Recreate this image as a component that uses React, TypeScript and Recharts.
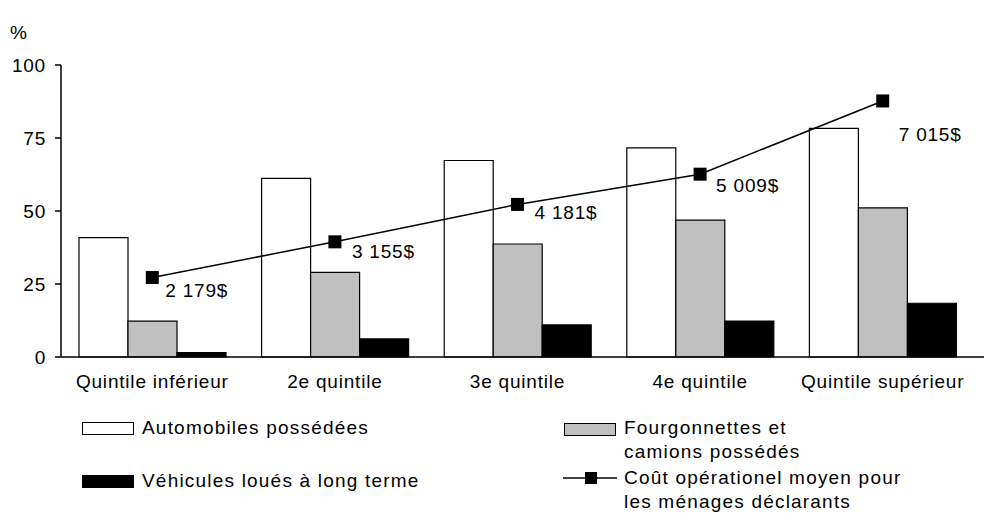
import {
  Bar,
  ComposedChart,
  LabelList,
  Line,
  XAxis,
  YAxis
} from 'recharts';

// Quintiles de revenu
const categories = ['Quintile inférieur', '2e quintile', '3e quintile', '4e quintile', 'Quintile supérieur'];

// Pourcentage des ménages
const automobiles = [40.9, 61.2, 67.3, 71.6, 78.3];
const fourgonnettes = [12.3, 29.0, 38.7, 46.9, 51.1];
const vehiculesLoues = [1.5, 6.2, 11.0, 12.3, 18.4];

// Coût opérationnel moyen ($)
const coutMoyen = [2179, 3155, 4181, 5009, 7015];

const yTicks = [0, 25, 50, 75, 100];

const data = categories.map((name, i) => ({
  name,
  auto: automobiles[i],
  fourg: fourgonnettes[i],
  loues: vehiculesLoues[i],
  cout: coutMoyen[i]
}));

const FONT = '"Liberation Sans", Arial, sans-serif';
const TEXT = { fontFamily: FONT, fontSize: 19, fill: '#000', letterSpacing: 0.8 };

// label placement next to each point (as in the original)
const LABEL_OFFSETS = [[13, 13], [17, 9], [17, 8], [16, 11], [16, 33]];

const formatCost = (n: number) =>
  `${Math.floor(n / 1000)} ${String(n % 1000).padStart(3, '0')}$`;

const SquareDot = (props: any) => {
  const { cx, cy } = props;
  if (cx == null || cy == null) return null;
  return <rect x={cx - 6.5} y={cy - 6.5} width={13} height={13} fill="#000" />;
};

const CostLabel = (props: any) => {
  const { x, y, value, index } = props;
  const [dx, dy] = LABEL_OFFSETS[index] || [14, 10];
  return (
    <text x={x + dx} y={y + dy} dy="0.355em" textAnchor="start" {...TEXT}>
      {formatCost(value)}
    </text>
  );
};

const legendText: React.CSSProperties = {
  position: 'absolute',
  fontFamily: FONT,
  fontSize: 19,
  letterSpacing: 1.2,
  lineHeight: '24px',
  color: '#000',
  whiteSpace: 'nowrap'
};

const Swatch = ({ left, top, fill }: { left: number; top: number; fill: string }) => (
  <div
    style={{
      position: 'absolute',
      left,
      top,
      width: 52,
      height: 13,
      boxSizing: 'border-box',
      background: fill,
      border: '1.5px solid #000'
    }}
  />
);

const App = () => {
  return (
    <div style={{ position: 'absolute', left: 0, top: 0, width: 986, height: 521, background: '#fff' }}>
      <div style={{ ...legendText, left: 10, top: 21 }}>%</div>
      <ComposedChart
        width={986}
        height={521}
        data={data}
        barGap={0}
        margin={{ top: 65, right: 2, left: 0, bottom: 134 }}
      >
        <XAxis
          dataKey="name"
          height={30}
          tickLine={false}
          padding={{ left: 0, right: 10 }}
          axisLine={{ stroke: '#000', strokeWidth: 1.5 }}
          tick={TEXT}
          tickMargin={12}
          interval={0}
        />
        <XAxis
          xAxisId="top"
          dataKey="name"
          orientation="top"
          height={0}
          tick={false}
          tickLine={false}
          axisLine={{ stroke: '#000', strokeWidth: 1.5 }}
        />
        <YAxis
          yAxisId="pct"
          width={61}
          domain={[0, 100]}
          ticks={yTicks}
          tickSize={6}
          tickMargin={9}
          tick={TEXT}
          tickLine={{ stroke: '#000', strokeWidth: 1.5 }}
          axisLine={{ stroke: '#000', strokeWidth: 1.5 }}
        />
        <YAxis
          yAxisId="cout"
          orientation="right"
          width={0}
          domain={[0, 8000]}
          tick={false}
          tickLine={false}
          axisLine={{ stroke: '#000', strokeWidth: 1.5 }}
        />
        <Bar yAxisId="pct" dataKey="auto" barSize={49} fill="#fff" stroke="#000" strokeWidth={1.2} isAnimationActive={false} />
        <Bar yAxisId="pct" dataKey="fourg" barSize={49} fill="#c0c0c0" stroke="#000" strokeWidth={1.2} isAnimationActive={false} />
        <Bar yAxisId="pct" dataKey="loues" barSize={49} fill="#000" stroke="#000" strokeWidth={1.2} isAnimationActive={false} />
        <Line
          yAxisId="cout"
          dataKey="cout"
          stroke="#000"
          strokeWidth={1.5}
          dot={<SquareDot />}
          activeDot={false}
          isAnimationActive={false}
        >
          <LabelList dataKey="cout" content={<CostLabel />} />
        </Line>
      </ComposedChart>

      <Swatch left={82} top={422} fill="#fff" />
      <div style={{ ...legendText, left: 142, top: 416 }}>Automobiles possédées</div>

      <Swatch left={82} top={475} fill="#000" />
      <div style={{ ...legendText, left: 142, top: 469 }}>Véhicules loués à long terme</div>

      <Swatch left={564} top={423} fill="#c0c0c0" />
      <div style={{ ...legendText, left: 624, top: 416 }}>
        Fourgonnettes et
        <br />
        camions possédés
      </div>

      <svg style={{ position: 'absolute', left: 560, top: 470 }} width={60} height={16}>
        <line x1={3} y1={8} x2={57} y2={8} stroke="#000" strokeWidth={1.5} />
        <rect x={25} y={2} width={12} height={12} fill="#000" />
      </svg>
      <div style={{ ...legendText, left: 624, top: 466 }}>
        Coût opérationel moyen pour
        <br />
        les ménages déclarants
      </div>
    </div>
  );
};

export default App;
